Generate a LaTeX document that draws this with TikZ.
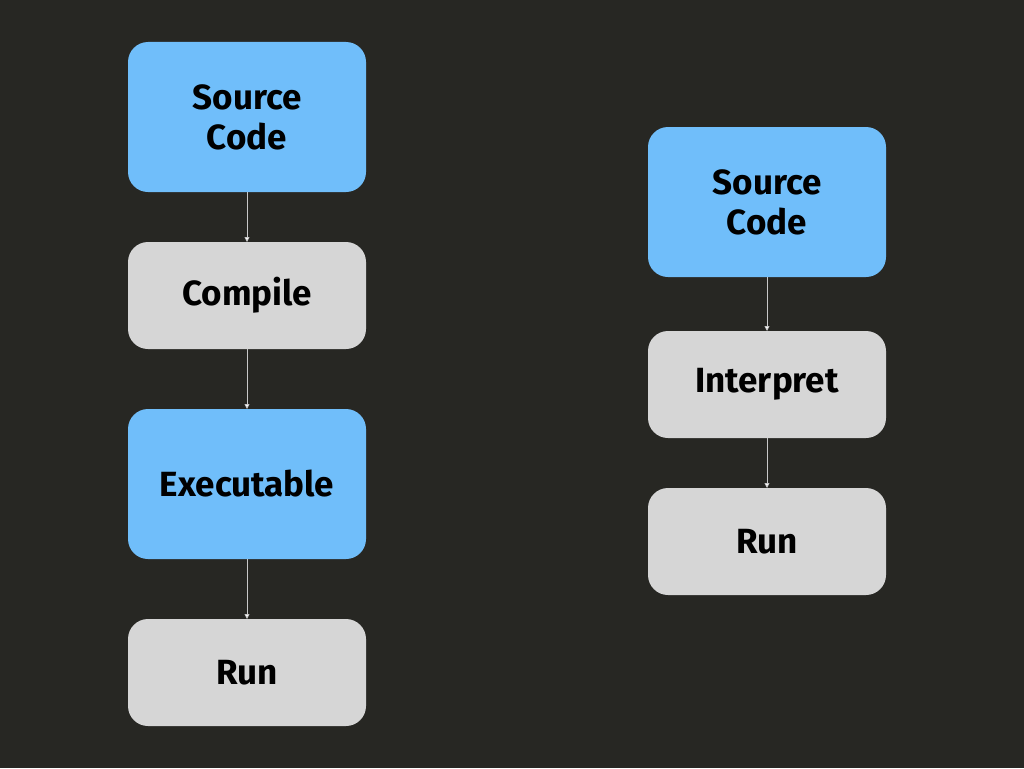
\documentclass[tikz,border=0pt]{standalone}
\usepackage{fontspec}
\setmainfont{Fira Sans}
\usetikzlibrary{arrows.meta,positioning}
\definecolor{canvas}{RGB}{39,39,35}
\definecolor{artifact}{RGB}{112,190,250}
\definecolor{stage}{RGB}{214,214,214}
\definecolor{link}{RGB}{200,200,200}

\begin{document}
\begin{tikzpicture}[x=1pt,y=-1pt,>={Triangle[length=5pt,width=5pt,fill=white]},
  every node/.style={font=\fontsize{35}{40}\selectfont\bfseries,align=center,inner sep=0pt,outer sep=0pt,minimum width=238pt,rounded corners=20pt},
  artbox/.style={fill=artifact,minimum height=150pt},
  stagebox/.style={fill=stage,minimum height=107pt}]
\fill[canvas] (0,0) rectangle (1024,768);
\useasboundingbox (0,0) rectangle (1024,768);
% compiled language
\node[artbox] (src) at (247,117) {Source\\Code};
\node[stagebox,below=50pt of src] (compile) {Compile};
\node[artbox,below=60pt of compile] (exe) {Executable};
\node[stagebox,below=60pt of exe] (runc) {Run};
% interpreted language
\node[artbox] (srci) at (767,202) {Source\\Code};
\node[stagebox,below=54pt of srci] (interp) {Interpret};
\node[stagebox,below=50pt of interp] (runi) {Run};
\foreach \a/\b in {src/compile,compile/exe,exe/runc,srci/interp,interp/runi}
  \draw[->,link,line width=0.8pt] (\a)--(\b);
\end{tikzpicture}
\end{document}
